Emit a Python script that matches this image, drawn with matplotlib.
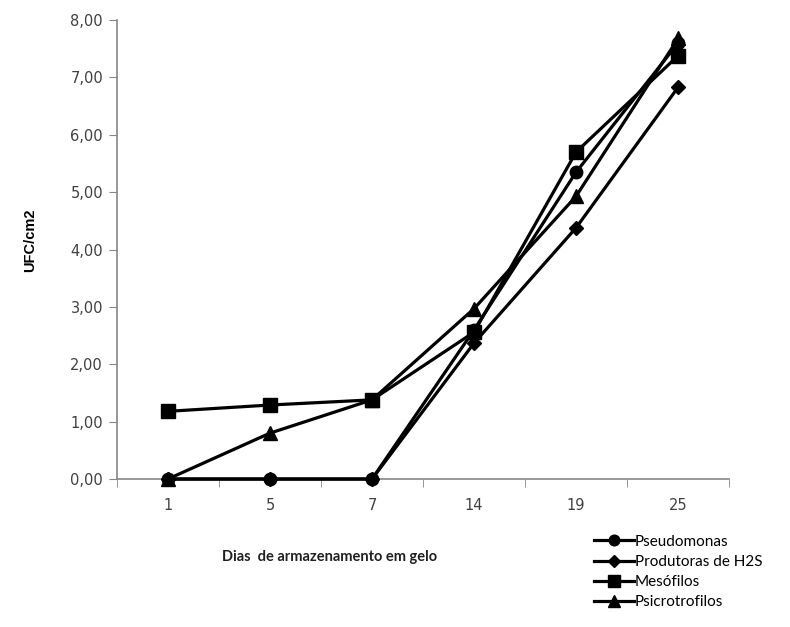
import numpy as np
import matplotlib.pyplot as plt

# days of storage on ice
dias = ["1", "5", "7", "14", "19", "25"]

pseudomonas = [0.0, 0.0, 0.0, 2.60, 5.35, 7.60]
produtoras_h2s = [0.0, 0.0, 0.0, 2.37, 4.38, 6.83]
mesofilos = [1.18, 1.29, 1.38, 2.56, 5.70, 7.38]
psicrotrofilos = [0.0, 0.80, 1.38, 2.97, 4.93, 7.68]

series = [
    ("Pseudomonas", pseudomonas, "o", 9),
    ("Produtoras de H2S", produtoras_h2s, "D", 7),
    ("Mesófilos", mesofilos, "s", 10),
    ("Psicrotrofilos", psicrotrofilos, "^", 10),
]

gray = "#868686"
txt = "#404040"

fig = plt.figure(figsize=(7.9, 6.27), dpi=100)
ax = fig.add_axes([0.148, 0.236, 0.775, 0.732])

x = np.arange(len(dias))
for name, vals, mk, ms in series:
    ax.plot(x, vals, color="black", linewidth=2.3, marker=mk, markersize=ms,
            label=name, clip_on=False, zorder=3)

ax.set_xlim(-0.5, len(dias) - 0.5)
ax.set_ylim(0, 8)
ax.set_yticks(np.arange(0, 9, 1))
ax.set_yticklabels([f"{v:.2f}".replace(".", ",") for v in range(9)])
ax.set_xticks(x)
ax.set_xticklabels(dias)
ax.set_xticks(np.arange(-0.5, len(dias), 1), minor=True)
ax.tick_params(axis="x", which="major", length=0, pad=14, labelsize=10.5, labelcolor=txt)
ax.tick_params(axis="x", which="minor", length=6, color=gray, direction="out")
ax.tick_params(axis="y", length=6, color=gray, direction="out", labelsize=10.5,
               labelcolor=txt, pad=4)

for s in ["top", "right"]:
    ax.spines[s].set_visible(False)
for s in ["left", "bottom"]:
    ax.spines[s].set_color(gray)
    ax.spines[s].set_linewidth(1.2)

ax.set_ylabel("UFC/cm2", fontsize=10.5, fontweight="bold", color="black",
              family="Liberation Sans")
ax.yaxis.set_label_coords(-0.13, 0.52)
fig.text(0.417, 0.111, "Dias  de armazenamento em gelo", fontsize=10.5, fontweight="bold",
         color="#202020", ha="center", va="center", family="Lato")

fig.legend(loc="upper left", bbox_to_anchor=(0.752, 0.147), frameon=False,
           handlelength=2.6, handletextpad=0.05, labelspacing=0.4,
           prop={"family": "Lato", "size": 11},
           borderaxespad=0, borderpad=0, markerscale=0.85)

fig.savefig("out.png", dpi=100)
